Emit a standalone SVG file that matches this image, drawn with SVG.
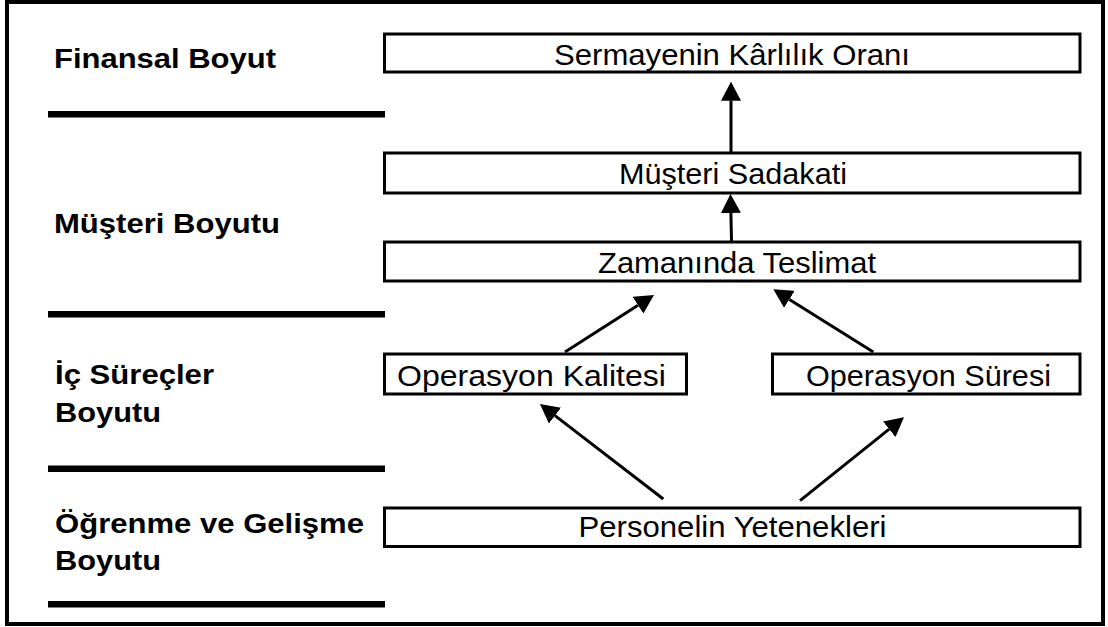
<svg xmlns="http://www.w3.org/2000/svg" width="1108" height="627" viewBox="0 0 1108 627">
<style>
.frame{fill:none;stroke:#000;stroke-width:4}
.bar{fill:#000}
.box{fill:#fff;stroke:#000;stroke-width:3}
.lbl{font-family:"Liberation Sans",Arial,sans-serif;font-weight:bold;font-size:27.5px;fill:#000}
.txt{font-family:"Liberation Sans",Arial,sans-serif;font-size:29.5px;fill:#000;text-anchor:middle}
.conn{stroke:#000;stroke-width:3;fill:none;marker-end:url(#ah)}
</style>
<defs>
<marker id="ah" viewBox="0 0 19 20" refX="0" refY="10" markerWidth="19" markerHeight="20" markerUnits="userSpaceOnUse" orient="auto">
<path d="M0,0 L19,10 L0,20 z" fill="#000"/>
</marker>
</defs>
<rect width="1108" height="627" fill="#fff"/>
<rect class="frame" x="7" y="2" width="1096" height="622"/>
<g id="dimensions">
<rect class="bar" x="48" y="111" width="337" height="6.5"/>
<rect class="bar" x="48" y="311" width="337" height="6.5"/>
<rect class="bar" x="48" y="465.5" width="337" height="6.5"/>
<rect class="bar" x="48" y="601" width="337" height="6.5"/>
<text class="lbl" x="54" y="68.3" textLength="222" lengthAdjust="spacingAndGlyphs">Finansal Boyut</text>
<text class="lbl" x="54" y="233" textLength="226" lengthAdjust="spacingAndGlyphs">Müşteri Boyutu</text>
<text class="lbl" x="55" y="384" textLength="159" lengthAdjust="spacingAndGlyphs">İç Süreçler</text>
<text class="lbl" x="55" y="422" textLength="106" lengthAdjust="spacingAndGlyphs">Boyutu</text>
<text class="lbl" x="55" y="532.5" textLength="309" lengthAdjust="spacingAndGlyphs">Öğrenme ve Gelişme</text>
<text class="lbl" x="55" y="569.5" textLength="106" lengthAdjust="spacingAndGlyphs">Boyutu</text>
</g>
<g id="connectors">
<line class="conn" x1="731" y1="152" x2="731" y2="100.7"/>
<line class="conn" x1="731.5" y1="241" x2="730.9" y2="213"/>
<line class="conn" x1="565" y1="352" x2="638" y2="305.2"/>
<line class="conn" x1="873.3" y1="352" x2="789.4" y2="299.4"/>
<line class="conn" x1="663.3" y1="499" x2="555" y2="415.6"/>
<line class="conn" x1="800" y1="500.7" x2="889.2" y2="429.2"/>
</g>
<g id="node-sermaye">
<rect class="box" x="384.5" y="34" width="695.5" height="38"/>
<text class="txt" x="732" y="65" textLength="356" lengthAdjust="spacingAndGlyphs">Sermayenin Kârlılık Oranı</text>
</g>
<g id="node-sadakat">
<rect class="box" x="384.5" y="153" width="695.5" height="40"/>
<text class="txt" x="733" y="183.5" textLength="228" lengthAdjust="spacingAndGlyphs">Müşteri Sadakati</text>
</g>
<g id="node-teslimat">
<rect class="box" x="384.5" y="242" width="695.5" height="39"/>
<text class="txt" x="737" y="272.5" textLength="278" lengthAdjust="spacingAndGlyphs">Zamanında Teslimat</text>
</g>
<g id="node-kalite">
<rect class="box" x="384.5" y="354" width="302" height="40"/>
<text class="txt" x="531.5" y="386" textLength="269" lengthAdjust="spacingAndGlyphs">Operasyon Kalitesi</text>
</g>
<g id="node-sure">
<rect class="box" x="772.5" y="354" width="307.5" height="40"/>
<text class="txt" x="928.5" y="386" textLength="245" lengthAdjust="spacingAndGlyphs">Operasyon Süresi</text>
</g>
<g id="node-personel">
<rect class="box" x="384.5" y="508" width="695.5" height="38.5"/>
<text class="txt" x="732.5" y="537" textLength="308" lengthAdjust="spacingAndGlyphs">Personelin Yetenekleri</text>
</g>
</svg>
